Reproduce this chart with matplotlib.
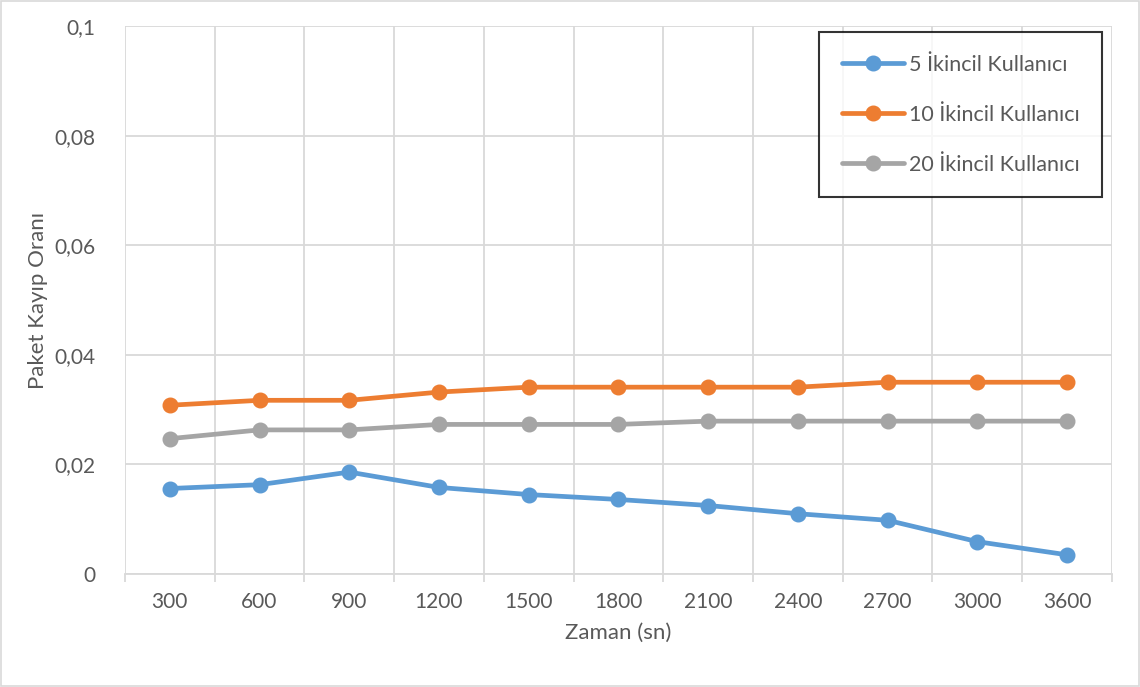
import matplotlib.pyplot as plt
from matplotlib.patches import Rectangle

# values
zaman = ['300', '600', '900', '1200', '1500', '1800', '2100', '2400', '2700', '3000', '3600']
kullanici_5 = [0.0156, 0.0163, 0.0186, 0.0158, 0.0145, 0.0136, 0.0125, 0.0110, 0.0098, 0.0059, 0.0035]
kullanici_10 = [0.0308, 0.0317, 0.0317, 0.0332, 0.0341, 0.0341, 0.0341, 0.0341, 0.0350, 0.0350, 0.0350]
kullanici_20 = [0.0247, 0.0263, 0.0263, 0.0273, 0.0273, 0.0273, 0.0279, 0.0279, 0.0279, 0.0279, 0.0279]
y_ticks = [0, 0.02, 0.04, 0.06, 0.08, 0.1]
y_labels = ['0', '0,02', '0,04', '0,06', '0,08', '0,1']

plt.rcParams['font.family'] = ['Lato', 'DejaVu Sans']
text_col = '#595959'
grid_col = '#D9D9D9'

fig = plt.figure(figsize=(11.4, 6.87), dpi=100)
ax = fig.add_axes([0.1096, 0.1645, 0.8658, 0.7975])

x = list(range(len(zaman)))
series = [
    (kullanici_5, '#5B9BD5', '5 İkincil Kullanıcı'),
    (kullanici_10, '#ED7D31', '10 İkincil Kullanıcı'),
    (kullanici_20, '#A5A5A5', '20 İkincil Kullanıcı'),
]
for vals, col, lab in series:
    ax.plot(x, vals, color=col, lw=3.4, marker='o', ms=10.5, label=lab, solid_capstyle='round', zorder=3)

ax.set_xlim(-0.5, len(zaman) - 0.5)
ax.set_ylim(0, 0.1)
ax.set_xticks(x)
ax.set_xticklabels(zaman)
ax.set_xticks([i - 0.5 for i in range(len(zaman) + 1)], minor=True)
ax.set_yticks(y_ticks)
ax.set_yticklabels(y_labels)

ax.grid(True, which='minor', axis='x', color=grid_col, lw=1.3)
ax.grid(True, which='major', axis='y', color=grid_col, lw=1.3)
ax.tick_params(axis='x', which='major', length=0, pad=13, labelsize=15, labelcolor=text_col)
ax.tick_params(axis='x', which='minor', length=6, color=grid_col, width=1.3)
ax.tick_params(axis='y', length=0, pad=21, labelsize=15, labelcolor=text_col)
for s in ['top', 'right', 'left']:
    ax.spines[s].set_visible(False)
ax.spines['bottom'].set_color(grid_col)
ax.spines['bottom'].set_linewidth(1.3)
ax.set_axisbelow(True)

ax.set_xlabel('Zaman (sn)', fontsize=16, color=text_col, labelpad=8)
ax.set_ylabel('Paket Kayıp Oranı', fontsize=16, color=text_col, labelpad=5)

leg = ax.legend(loc='upper right', bbox_to_anchor=(1102 / 1140, 1 - 32 / 687),
                bbox_transform=fig.transFigure, frameon=True, fancybox=False,
                edgecolor='black', fontsize=15.5, labelspacing=1.4, borderpad=1.05,
                handlelength=2.9, handletextpad=0.2, borderaxespad=0)
leg.get_frame().set_linewidth(1.5)
for t in leg.get_texts():
    t.set_color(text_col)

fig.patches.append(Rectangle((0.001, 0.001), 0.998, 0.997, transform=fig.transFigure,
                             fill=False, edgecolor=grid_col, lw=1.2))

fig.savefig('out.png', dpi=100)
